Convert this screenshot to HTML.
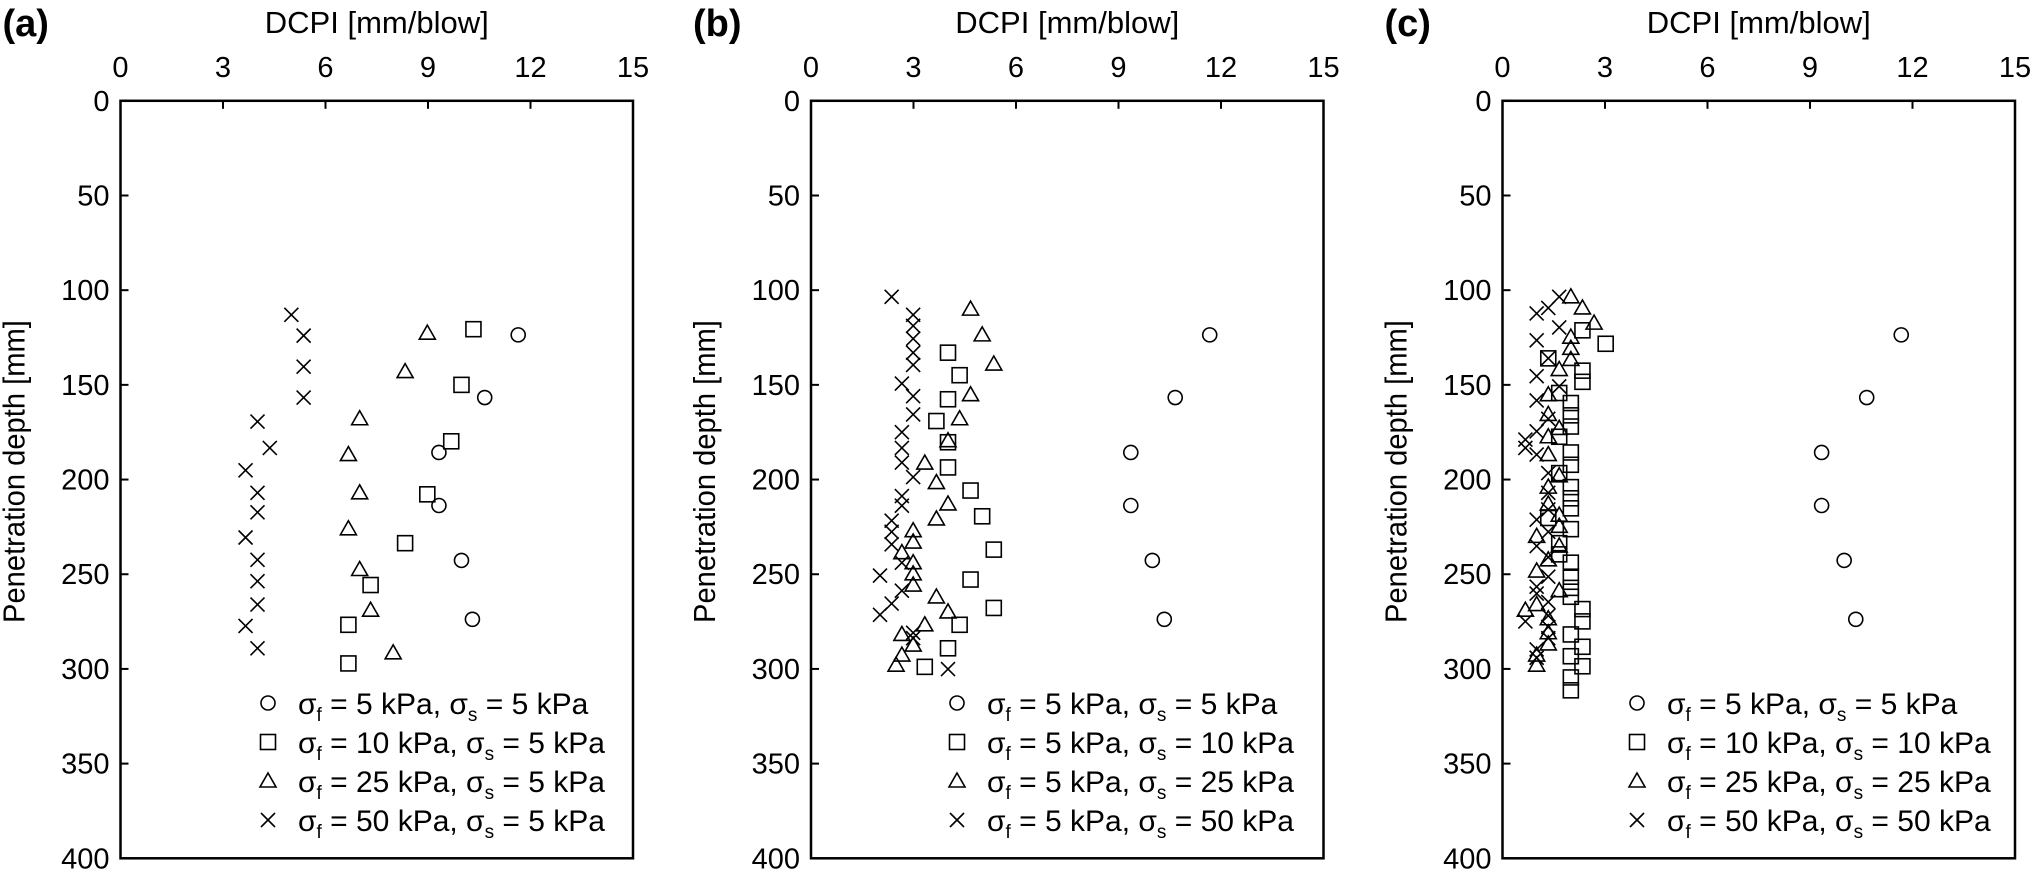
<!DOCTYPE html>
<html><head><meta charset="utf-8"><style>
html,body{margin:0;padding:0;background:#fff;}
svg{display:block;font-family:"Liberation Sans",Arial,sans-serif;}
</style></head><body>
<svg id="chart" width="2031" height="878" viewBox="0 0 2031 878" xmlns="http://www.w3.org/2000/svg"></svg>
<script>
const xTicks=[0,3,6,9,12,15];
const yTicks=[0,50,100,150,200,250,300,350,400];
const panelLetters=["(a)","(b)","(c)"];
// Panel A
const aCircX=[11.64,10.66,9.32,9.32,9.98,10.3];
const aCircY=[123.6,156.7,185.7,213.7,242.7,273.8];
const aSqX=[10.33,9.98,9.68,8.98,8.33,7.32,6.67,6.67];
const aSqY=[120.6,150,179.8,207.8,233.6,255.7,276.7,297.1];
const aTriX=[8.98,8.33,7.0,6.67,7.0,6.67,7.0,7.32,7.98];
const aTriY=[122.7,143,167.9,186.8,207,226,247.5,269,291.5];
const aXX=[5.0,5.36,5.36,5.36,4.01,4.37,3.66,4.01,4.01,3.66,4.01,4.01,4.01,3.66,4.01];
const aXY=[113,124,140.4,156.7,169.4,183.3,195.1,207,217.3,230.6,242.4,253.7,266,277.3,289.1];
const aLegend=["5 kPa|5 kPa","10 kPa|5 kPa","25 kPa|5 kPa","50 kPa|5 kPa"];
// Panel B
const bCircX=[11.67,10.66,9.36,9.36,9.99,10.34];
const bCircY=[123.6,156.7,185.7,213.7,242.7,273.8];
const bSqX=[4.01,4.35,4.01,3.67,4.01,4.01,4.67,5.01,5.35,4.67,5.35,4.35,4.01,3.33];
const bSqY=[133,144.9,157.6,169.1,180.3,193.6,205.8,219.4,237,252.8,267.8,276.7,289.1,298.9];
const bTriX=[4.67,5.01,5.35,4.67,4.35,4.01,3.33,3.67,4.01,3.67,2.99,2.99,2.66,2.99,2.99,2.99,3.67,4.01,3.33,2.66,2.99,2.66,2.49];
const bTriY=[110,123.6,139,155.2,167.9,179.5,191.3,201.6,212.9,220.8,227,233,238.6,243.9,249.8,255.7,262,269.9,276.7,281.8,287.4,292.7,298];
const bXX=[2.36,2.99,2.99,2.99,2.99,2.99,2.66,2.99,2.99,2.66,2.66,2.66,2.99,2.66,2.66,2.36,2.36,2.36,2.66,2.02,2.66,2.36,2.02,2.99,2.99,4.01];
const bXY=[103.5,113,118.8,125.6,133,139.5,149.3,156,165.6,175,183.3,191,198.7,208.7,213.8,221.7,227.6,234.2,243.9,250.7,258.7,265.5,271.4,280.9,283.8,300.1];
const bLegend=["5 kPa|5 kPa","5 kPa|10 kPa","5 kPa|25 kPa","5 kPa|50 kPa"];
// Panel C
const cCircX=[11.67,10.66,9.34,9.34,10.0,10.34];
const cCircY=[123.6,156.7,185.7,213.7,242.7,273.8];
const cSqX=[2.34,3.02,1.34,2.34,2.34,1.66,2.0,2.0,2.0,1.66,2.0,2.0,1.66,2.0,2.0,2.0,1.34,2.0,1.66,1.66,2.0,2.0,2.0,2.0,2.34,2.34,2.0,2.34,2.0,2.34,2.0,2.0];
const cSqY=[121.2,128.3,136,142.5,148.4,154.3,159.6,166.1,172,177.4,185.7,192.2,196.6,204,209.9,215.2,220.3,226.2,233.6,239.5,243.9,251.3,257.2,261.9,268.4,274.9,281.8,288.3,293.3,298.6,304.5,311.3];
const cTriX=[2.0,2.34,2.68,2.0,2.0,2.0,1.66,1.34,1.34,1.66,1.34,1.34,1.66,1.34,1.34,1.66,1.66,1.0,1.66,1.34,1.0,1.66,1.0,0.67,1.34,1.34,1.34,1.0,1.0];
const cTriY=[103.5,109.4,117.4,124.8,130.7,136.6,141.9,155.2,165.6,173,177.4,186.8,198,204,212.9,218.8,224.7,230,235.1,242.4,248.3,258.7,266,269,273.5,280.9,286.8,292.7,298];
const cXX=[1.66,1.34,1.0,1.66,1.0,1.34,1.0,1.66,1.0,1.34,1.0,0.67,0.67,1.0,1.34,1.34,1.34,1.0,1.34,1.0,1.34,1.34,1.0,1.0,1.34,0.67,1.34,1.34,1.34,1.0,1.0];
const cXY=[103.5,109.4,112.3,119.7,126.5,136,145.4,150.8,158.2,167.9,174.5,178.9,183.3,186.8,196.6,207,215.8,221.2,227.6,235.1,241,251.3,256.6,260.2,264.6,274.9,271.9,277.8,283.8,289.7,294.1];
const cLegend=["5 kPa|5 kPa","10 kPa|10 kPa","25 kPa|25 kPa","50 kPa|50 kPa"];

const NS="http://www.w3.org/2000/svg";
const svg=document.getElementById('chart');
function mk(tag,attrs,parent){const e=document.createElementNS(NS,tag);for(const k in attrs)e.setAttribute(k,attrs[k]);(parent||svg).appendChild(e);return e;}
const panels=[
 {left:120.5,letter:0,circ:[aCircX,aCircY],sq:[aSqX,aSqY],tri:[aTriX,aTriY],xs:[aXX,aXY],leg:aLegend,legX:268,name:'panel-a'},
 {left:811,letter:1,circ:[bCircX,bCircY],sq:[bSqX,bSqY],tri:[bTriX,bTriY],xs:[bXX,bXY],leg:bLegend,legX:957,name:'panel-b'},
 {left:1502.5,letter:2,circ:[cCircX,cCircY],sq:[cSqX,cSqY],tri:[cTriX,cTriY],xs:[cXX,cXY],leg:cLegend,legX:1637,name:'panel-c'}
];
const W=512.5,TOP=100.8,H=757.5;
panels.forEach(p=>{
 const g=mk('g',{});
 
 
 const sx=v=>p.left+v/15*W, sy=v=>TOP+v/400*H;
 const lab=mk('text',{x:p.left-118,y:36,'font-size':38,'font-weight':'bold'},g);lab.textContent=panelLetters[p.letter];
 
 
 const xt=mk('text',{x:p.left+W/2,y:33,'font-size':31,'text-anchor':'middle'},g);xt.textContent='DCPI [mm/blow]';
 
 
 const yt=mk('text',{x:0,y:0,'font-size':31,'text-anchor':'middle',transform:`translate(${p.left-96},${TOP+H/2-8}) rotate(-90) scale(0.94,1)`},g);yt.textContent='Penetration depth [mm]';
 
 
 mk('rect',{x:p.left,y:TOP,width:W,height:H,fill:'none',stroke:'#000','stroke-width':2.5},g);
 xTicks.forEach(v=>{
  mk('line',{x1:sx(v),x2:sx(v),y1:TOP,y2:TOP+8,stroke:'#000','stroke-width':2},g);
  const t=mk('text',{x:sx(v),y:77,'font-size':29,'text-anchor':'middle'},g);t.textContent=v;
  
  
 });
 yTicks.forEach(v=>{
  mk('line',{x1:p.left,x2:p.left+8,y1:sy(v),y2:sy(v),stroke:'#000','stroke-width':2},g);
  const t=mk('text',{x:p.left-11,y:sy(v)+10,'font-size':29,'text-anchor':'end'},g);t.textContent=v;
  
  
 });
 const st={fill:'none',stroke:'#000','stroke-width':1.6};
 function circle(cx,cy,par){return mk('circle',Object.assign({cx,cy,r:7},st),par);}
 function square(cx,cy,par){return mk('rect',Object.assign({x:cx-7.5,y:cy-7.5,width:15,height:15},st),par);}
 function tri(cx,cy,par){return mk('path',Object.assign({d:`M${cx} ${cy-8}L${cx+8} ${cy+6}L${cx-8} ${cy+6}Z`},st),par);}
 function cross(cx,cy,par){return mk('path',Object.assign({d:`M${cx-7} ${cy-7}L${cx+7} ${cy+7}M${cx+7} ${cy-7}L${cx-7} ${cy+7}`},st),par);}
 const series=[[p.circ,circle,'circle-series'],[p.sq,square,'square-series'],[p.tri,tri,'triangle-series'],[p.xs,cross,'cross-series']];
 series.forEach(([d,fn,nm])=>{
  const sg=mk('g',{},g);
  
  
  d[0].forEach((v,i)=>{const m=fn(sx(v),sy(d[1][i]),sg);
   
   });
 });
 const lg=mk('g',{},g);
 
 
 p.leg.forEach((s,i)=>{
  const y=703+i*39;
  series[i][1](p.legX,y,lg);
  const [f,sv]=s.split('|');
  const t=mk('text',{x:p.legX+30,y:y+11,'font-size':30},lg);
  
  
  t.innerHTML=`σ<tspan dy="7" font-size="19">f</tspan><tspan dy="-7"> = ${f}, σ</tspan><tspan dy="7" font-size="19">s</tspan><tspan dy="-7"> = ${sv}</tspan>`;
 });
});
</script>
</body></html>
